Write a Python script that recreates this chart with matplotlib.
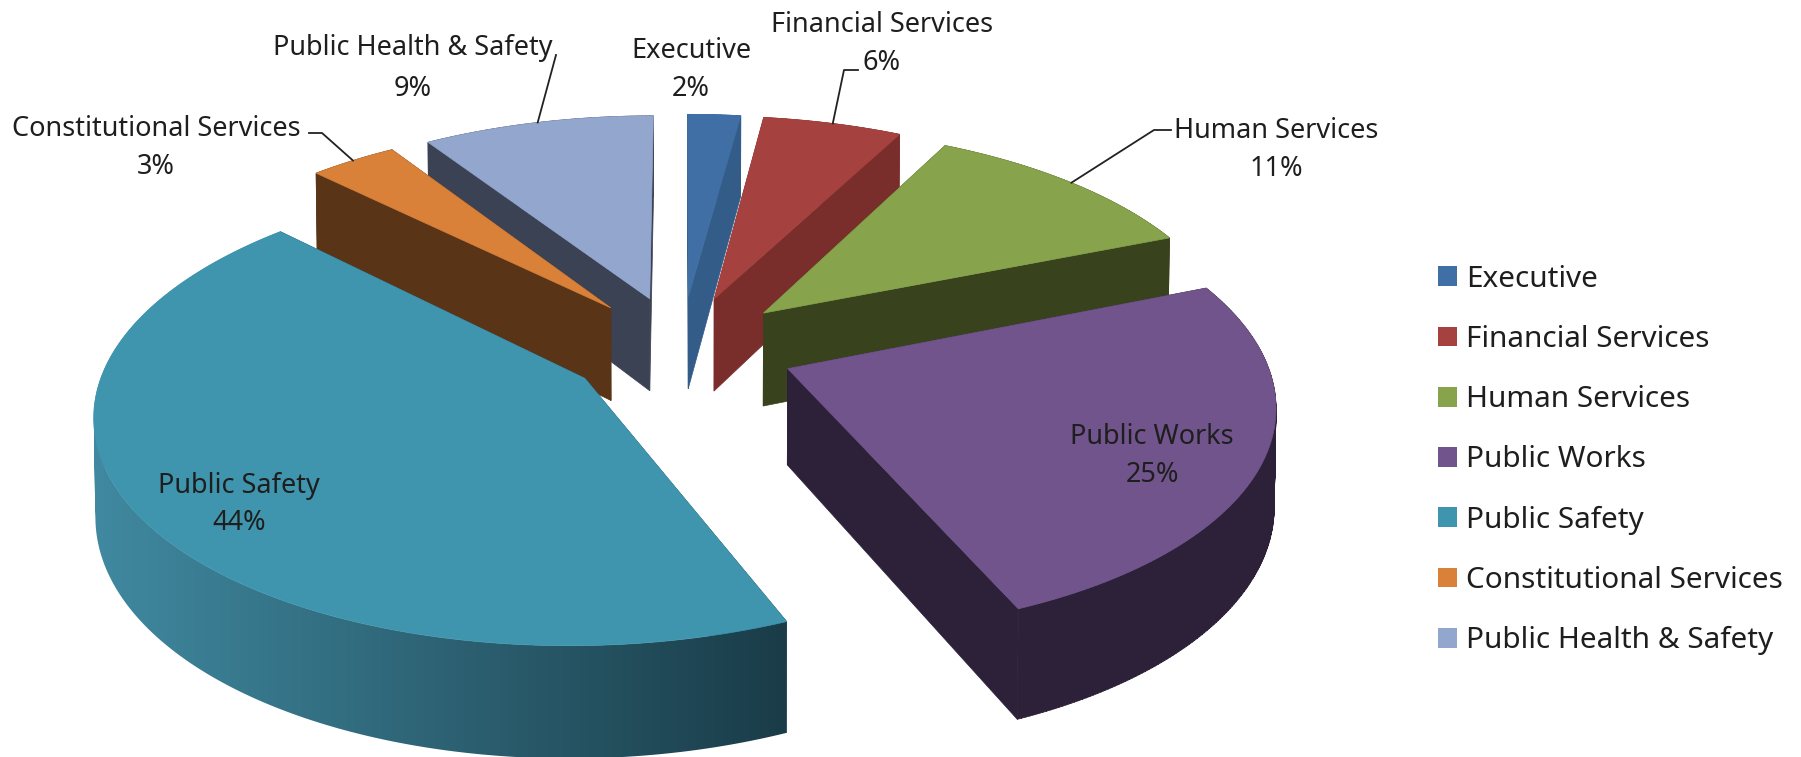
import numpy as np
import matplotlib
matplotlib.use("Agg")
import matplotlib.pyplot as plt
from matplotlib.patches import Patch, PathPatch, Polygon
from matplotlib.path import Path
from matplotlib.colors import to_rgb, LinearSegmentedColormap

categories = ["Executive", "Financial Services", "Human Services", "Public Works",
              "Public Safety", "Constitutional Services", "Public Health & Safety"]
# shares, the labels show them rounded
values = [2.1, 5.5, 11.3, 24.75, 43.75, 3.45, 9.15]

top_colors = ["#3F6FA5", "#A5423F", "#87A44C", "#70548B", "#4095AE", "#D98039", "#92A6CE"]
side_colors = ["#335C88", "#7A2E2C", "#38421C", "#2C2138", "#1A3C48", "#593416", "#3B4254"]
rim_left_colors = ["#335C88", "#7A2E2C", "#38421C", "#2C2138", "#4089A0", "#593416", "#3B4254"]

# pie geometry, in pixels of the figure
CX, CY = 681, 348
RX, RY = 475, 221
PERSP = 0.139
EXPLODE = 0.24
DEPTH = 95

plt.rcParams["font.family"] = ["Noto Sans", "DejaVu Sans"]
LABEL_FONT = 19.5
LEGEND_FONT = 21.4
TEXT = "#1E1E1E"


def project(x, y, bottom=False):
    # ground plane -> screen, far side shrinks
    x, y = np.asarray(x, float), np.asarray(y, float)
    w = 1 + PERSP * y
    sx = CX + RX * x / w
    sy = CY - RY * y / w
    if bottom:
        sx = CX + (sx - CX) * 0.997
        sy = sy + DEPTH / w
    return sx, sy


def wall_path(top_x, top_y, bot_x, bot_y):
    # one quad per rim step, all wound the same way so the fold at the sides stays filled
    quads = []
    for k in range(len(top_x) - 1):
        q = np.array([(top_x[k], top_y[k]), (top_x[k + 1], top_y[k + 1]),
                      (bot_x[k + 1], bot_y[k + 1]), (bot_x[k], bot_y[k]), (top_x[k], top_y[k])])
        area = np.sum(q[:-1, 0] * q[1:, 1] - q[1:, 0] * q[:-1, 1])
        if area < 0:
            q = q[::-1]
        quads.append(Path(q, closed=True))
    return Path.make_compound_path(*quads)


fig = plt.figure(figsize=(18.01, 7.57), dpi=100)
ax = fig.add_axes([0, 0, 1, 1])
ax.set_xlim(0, 1801)
ax.set_ylim(757, 0)
ax.axis("off")

edges = np.radians(np.concatenate([[0], np.cumsum(values)]) / sum(values) * 360)
mids = (edges[:-1] + edges[1:]) / 2
off_x = EXPLODE * np.sin(mids)
off_y = EXPLODE * np.cos(mids)

# back slices first so the front ones cover them
for i in np.argsort(-off_y):
    t = np.linspace(edges[i], edges[i + 1], max(int(np.degrees(edges[i + 1] - edges[i])) * 2, 6))
    rim_x = off_x[i] + np.sin(t)
    rim_y = off_y[i] + np.cos(t)
    top_x, top_y = project(rim_x, rim_y)
    bot_x, bot_y = project(rim_x, rim_y, bottom=True)
    ax_x, ax_y = project(off_x[i], off_y[i])
    bx_x, bx_y = project(off_x[i], off_y[i], bottom=True)

    # the two cut faces
    for k in (0, -1):
        ax.add_patch(Polygon([(ax_x, ax_y), (top_x[k], top_y[k]), (bot_x[k], bot_y[k]), (bx_x, bx_y)],
                             closed=True, fc=side_colors[i], ec=side_colors[i], lw=0.5))

    # outer wall, shaded from left to right where the two colours differ
    wall = wall_path(top_x, top_y, bot_x, bot_y)
    if rim_left_colors[i] == side_colors[i]:
        ax.add_patch(PathPatch(wall, fc=side_colors[i], ec=side_colors[i], lw=0.5))
    else:
        patch = PathPatch(wall, fc="none", ec="none")
        ax.add_patch(patch)
        cmap = LinearSegmentedColormap.from_list("wall", [to_rgb(rim_left_colors[i]), to_rgb(side_colors[i])])
        im = ax.imshow(np.linspace(0, 1, 256).reshape(1, -1), cmap=cmap, aspect="auto",
                       extent=(wall.vertices[:, 0].min(), wall.vertices[:, 0].max(),
                               wall.vertices[:, 1].max(), wall.vertices[:, 1].min()),
                       zorder=1)
        im.set_clip_path(patch)
        ax.set_xlim(0, 1801)
        ax.set_ylim(757, 0)

    # top surface
    ax.add_patch(Polygon(np.column_stack([np.r_[ax_x, top_x], np.r_[ax_y, top_y]]),
                         closed=True, fc=top_colors[i], ec=top_colors[i], lw=0.5, zorder=1.5 if i == 4 else 1))

# data labels: name and percent line
label_pos = [(691, 50.5, 88.5), (882, 24.5, 63), (1276, 130.5, 168.5), (1152, 436.5, 474.5),
             (239, 486.5, 522.5), (156, 128.5, 166.5), (413, 47.5, 88.5)]
for name, v, (x, y1, y2) in zip(categories, values, label_pos):
    ax.text(x, y1, name, ha="center", va="center", fontsize=LABEL_FONT, color=TEXT, zorder=5)
    ax.text(x, y2, f"{round(v)}%", ha="center", va="center", fontsize=LABEL_FONT, color=TEXT, zorder=5)

# leader lines go from the label to the middle of the slice rim
leaders = {1: [(858, 70), (844, 70)], 2: [(1171, 130), (1154, 130)],
           5: [(309, 133), (322, 133)], 6: [(556, 55)]}
for i, pts in leaders.items():
    sx, sy = project(off_x[i] + np.sin(mids[i]), off_y[i] + np.cos(mids[i]))
    xs = [p[0] for p in pts] + [sx]
    ys = [p[1] for p in pts] + [sy]
    ax.plot(xs, ys, color="#222222", lw=1.3, zorder=5)

handles = [Patch(fc=c, ec="none") for c in top_colors]
ax.legend(handles, categories, loc="center left", bbox_to_anchor=(1438 / 1801, 1 - 460 / 757),
          frameon=False, fontsize=LEGEND_FONT, labelcolor=TEXT, handlelength=0.64, handleheight=0.64,
          handletextpad=0.31, labelspacing=1.05, borderpad=0, borderaxespad=0)

fig.savefig("out.png", dpi=100, facecolor="white")
